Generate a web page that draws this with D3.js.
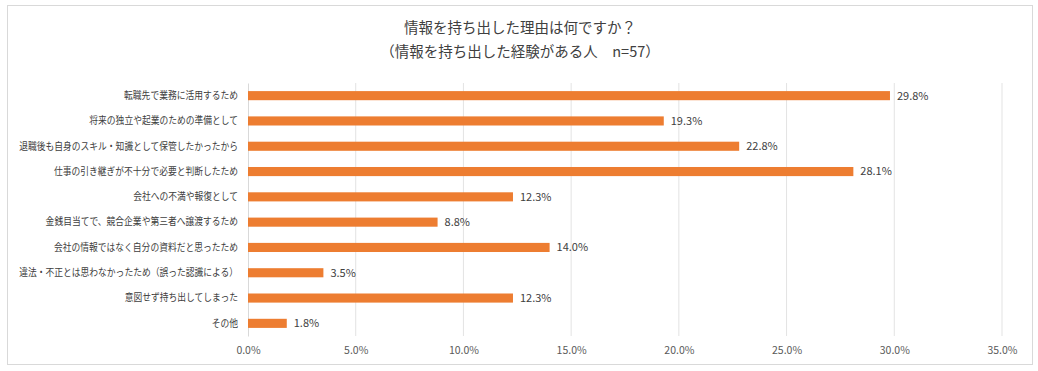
<!DOCTYPE html>
<html>
<head>
<meta charset="utf-8">
<script src="https://cdn.jsdelivr.net/npm/d3@7"></script>
<style>
  body { margin: 0; background: #fff; }
  svg text { font-family: "Noto Sans CJK JP", "Noto Sans", sans-serif; }
</style>
</head>
<body>
<div id="chart"></div>
<script>
// chart data
var titleLines = ["情報を持ち出した理由は何ですか？", "（情報を持ち出した経験がある人　n=57）"];

var reasons = [
  "転職先で業務に活用するため",
  "将来の独立や起業のための準備として",
  "退職後も自身のスキル・知識として保管したかったから",
  "仕事の引き継ぎが不十分で必要と判断したため",
  "会社への不満や報復として",
  "金銭目当てで、競合企業や第三者へ譲渡するため",
  "会社の情報ではなく自分の資料だと思ったため",
  "違法・不正とは思わなかったため（誤った認識による）",
  "意図せず持ち出してしまった",
  "その他"
];

var shares = [29.8, 19.3, 22.8, 28.1, 12.3, 8.8, 14.0, 3.5, 12.3, 1.8];

var xTicks = [0, 5, 10, 15, 20, 25, 30, 35];

// svg parameters
var svgWidth = 1038;
var svgHeight = 371;

var margin = { top: 83, right: 36, bottom: 35, left: 248 };

var width = svgWidth - margin.left - margin.right;
var height = svgHeight - margin.top - margin.bottom;

var svg = d3.select("#chart").append("svg")
  .attr("width", svgWidth)
  .attr("height", svgHeight);

// outer frame
svg.append("rect")
  .attr("x", 7.5).attr("y", 5.5)
  .attr("width", 1025).attr("height", 359)
  .attr("fill", "#fff")
  .attr("stroke", "#d9d9d9");

// title
svg.selectAll(".title")
  .data(titleLines)
  .enter().append("text")
  .attr("class", "title")
  .attr("x", 520)
  .attr("y", (d, i) => 33 + i * 24)
  .attr("text-anchor", "middle")
  .attr("font-size", "14.5px")
  .attr("fill", "#404040")
  .text(d => d);

var chartGroup = svg.append("g")
  .attr("transform", `translate(${margin.left}, ${margin.top})`);

var xScale = d3.scaleLinear().domain([0, 35]).range([0, width]);

var yScale = d3.scaleBand()
  .domain(reasons)
  .range([0, height])
  .paddingInner(0.64)
  .paddingOuter(0.32);

// gridlines
chartGroup.selectAll(".grid")
  .data(xTicks.slice(1))
  .enter().append("line")
  .attr("class", "grid")
  .attr("x1", d => xScale(d)).attr("x2", d => xScale(d))
  .attr("y1", 0).attr("y2", height)
  .attr("stroke", "#e3e3e3");

// x axis labels
var bottomAxis = d3.axisBottom(xScale)
  .tickValues(xTicks)
  .tickSize(0)
  .tickPadding(11)
  .tickFormat(d => d.toFixed(1) + "%");

chartGroup.append("g")
  .attr("transform", `translate(0, ${height})`)
  .call(bottomAxis)
  .call(g => g.select(".domain").remove())
  .call(g => g.selectAll("text")
    .attr("font-family", "'Noto Sans', sans-serif")
    .attr("font-size", "10.5px")
    .attr("fill", "#595959"));

// category axis (labels squeezed horizontally like the narrow original font)
var squeeze = 0.86;
var leftAxis = d3.axisLeft(yScale).tickSize(0).tickPadding(10);

chartGroup.append("g")
  .call(leftAxis)
  .call(g => g.select(".domain").attr("stroke", "#d9d9d9"))
  .call(g => g.selectAll("text")
    .attr("x", -10 / squeeze)
    .attr("transform", `scale(${squeeze},1)`)
    .attr("font-family", "'Noto Sans CJK JP', sans-serif")
    .attr("font-size", "10.2px")
    .attr("fill", "#404040"));

// bars
chartGroup.selectAll(".bar")
  .data(shares)
  .enter().append("rect")
  .attr("class", "bar")
  .attr("x", 0)
  .attr("y", (d, i) => yScale(reasons[i]))
  .attr("width", d => xScale(d))
  .attr("height", yScale.bandwidth())
  .attr("fill", "#ed7d31");

// value labels
chartGroup.selectAll(".val")
  .data(shares)
  .enter().append("text")
  .attr("class", "val")
  .attr("x", d => xScale(d) + 7)
  .attr("y", (d, i) => yScale(reasons[i]) + yScale.bandwidth() / 2)
  .attr("dy", "0.35em")
  .attr("font-family", "'Noto Sans', sans-serif")
  .attr("font-size", "11px")
  .attr("fill", "#404040")
  .text(d => d.toFixed(1) + "%");
</script>
</body>
</html>
